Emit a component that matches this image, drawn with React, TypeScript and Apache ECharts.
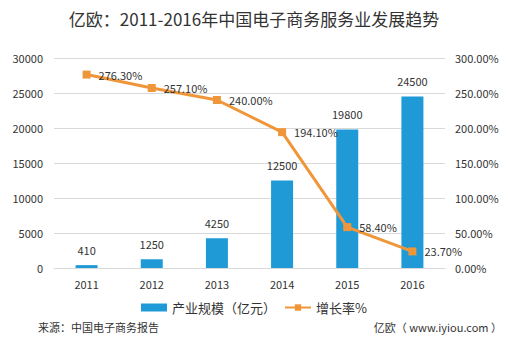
import React, { useEffect, useRef } from "react";
import * as echarts from "echarts";

const categories = ["2011", "2012", "2013", "2014", "2015", "2016"];
const scaleValues = [410, 1250, 4250, 12500, 19800, 24500];
const growthValues = [276.3, 257.1, 240.0, 194.1, 58.4, 23.7];
const leftTicks = [0, 5000, 10000, 15000, 20000, 25000, 30000];
const rightTicks = [0, 50, 100, 150, 200, 250, 300];

const FONT = "'Noto Sans CJK SC', 'Noto Sans', sans-serif";

export default function App() {
  const ref = useRef<HTMLDivElement>(null);
  useEffect(() => {
    if (!ref.current) return;
    const chart = echarts.init(ref.current, undefined, { renderer: "svg" });
    chart.setOption({
      animation: false,
      backgroundColor: "#ffffff",
      textStyle: { fontFamily: FONT },
      title: {
        text: "亿欧：2011-2016年中国电子商务服务业发展趋势",
        left: "center",
        top: 5,
        textStyle: { fontSize: 17, fontWeight: "normal", color: "#333333", fontFamily: FONT },
      },
      grid: { left: 54, right: 63, top: 58, bottom: 75 },
      legend: {
        bottom: 24,
        left: "center",
        itemWidth: 26,
        itemHeight: 8,
        itemGap: 8,
        textStyle: { fontSize: 13, color: "#333333", fontFamily: FONT },
        data: [
          { name: "产业规模（亿元）", icon: "rect" },
          { name: "增长率%" },
        ],
      },
      xAxis: {
        type: "category",
        data: categories,
        axisLine: { show: true, lineStyle: { color: "#d9d9d9" } },
        axisTick: { show: false },
        axisLabel: { color: "#333333", fontSize: 11, margin: 10 },
      },
      yAxis: [
        {
          type: "value",
          min: leftTicks[0],
          max: leftTicks[leftTicks.length - 1],
          interval: 5000,
          axisLine: { show: false },
          axisTick: { show: false },
          splitLine: { lineStyle: { color: "#d9d9d9" } },
          axisLabel: { color: "#333333", fontSize: 11, margin: 11, formatter: (v: number) => String(v) },
        },
        {
          type: "value",
          min: rightTicks[0],
          max: rightTicks[rightTicks.length - 1],
          interval: 50,
          axisLine: { show: false },
          axisTick: { show: false },
          splitLine: { show: false },
          axisLabel: {
            color: "#333333",
            fontSize: 11,
            margin: 10,
            formatter: (v: number) => v.toFixed(2) + "%",
          },
        },
      ],
      series: [
        {
          name: "产业规模（亿元）",
          type: "bar",
          data: scaleValues,
          barWidth: 22,
          itemStyle: { color: "#1f9ad6" },
          label: { show: true, position: "top", distance: 10, color: "#333333", fontSize: 11 },
        },
        {
          name: "增长率%",
          type: "line",
          yAxisIndex: 1,
          data: growthValues,
          symbol: "rect",
          symbolSize: 8,
          lineStyle: { color: "#f0963a", width: 3 },
          itemStyle: { color: "#f0963a" },
          label: {
            show: true,
            position: "right",
            distance: 8,
            color: "#333333",
            fontSize: 11,
            formatter: (p: any) => p.value.toFixed(2) + "%",
          },
        },
      ],
      graphic: [
        {
          type: "text",
          left: 38,
          top: 321,
          style: { text: "来源：中国电子商务报告", fontSize: 11, fill: "#333333", fontFamily: FONT },
        },
        {
          type: "text",
          right: 6,
          top: 321,
          style: { text: "亿欧（ www.iyiou.com ）", fontSize: 11, fill: "#333333", fontFamily: FONT },
        },
      ],
    });
    return () => chart.dispose();
  }, []);
  return <div ref={ref} style={{ width: 508, height: 343, position: "absolute", left: 0, top: 0 }} />;
}
